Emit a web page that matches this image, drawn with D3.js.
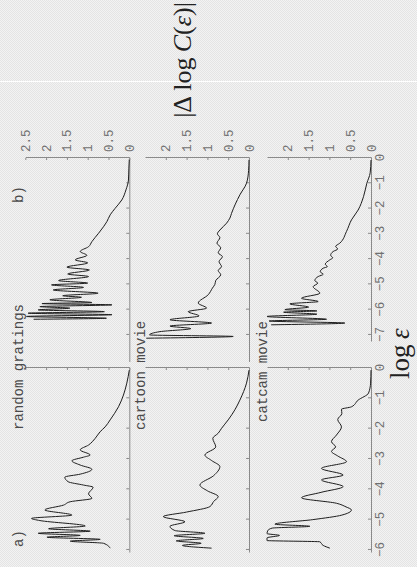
<!DOCTYPE html>
<html><head><meta charset="utf-8">
<script src="https://cdn.jsdelivr.net/npm/d3@7"></script>
<style>html,body{margin:0;padding:0;background:#ececec;} svg{display:block}</style>
</head><body>
<script>
// ---- data (log eps, |delta log C|) ----
const xTicksA = [-6,-5,-4,-3,-2,-1,0];
const xTicksB = [-7,-6,-5,-4,-3,-2,-1,0];
const yTicksTop = [0,0.5,1,1.5,2,2.5];
const yTicksLow = [0,0.5,1,1.5,2];
const rowTitles = ["random gratings","cartoon movie","catcam movie"];
const colLabels = ["a)","b)"];

const randomA = [[-5.94,0.46],[-5.78,0.62],[-5.71,1.42],[-5.65,0.70],[-5.58,1.98],[-5.52,1.18],[-5.45,2.19],[-5.38,0.94],[-5.30,1.94],[-5.21,1.06],[-5.03,2.15],[-4.96,2.35],[-4.85,1.38],[-4.68,2.03],[-4.52,1.58],[-4.41,1.42],[-4.30,0.90],[-4.15,0.98],[-3.93,0.87],[-3.86,1.10],[-3.75,1.47],[-3.60,1.55],[-3.50,1.18],[-3.34,0.90],[-3.20,1.18],[-3.06,1.38],[-2.94,1.10],[-2.87,0.94],[-2.70,1.18],[-2.54,0.98],[-2.32,0.82],[-2.10,0.70],[-1.94,0.58],[-1.71,0.46],[-1.28,0.26],[-0.89,0.14],[-0.50,0.06],[-0.07,0.0]];
const randomB = [[-6.38,2.30],[-6.34,0.55],[-6.27,2.47],[-6.20,0.42],[-6.14,2.43],[-6.08,0.60],[-6.01,2.19],[-5.94,1.43],[-5.88,2.15],[-5.81,0.42],[-5.76,2.10],[-5.72,0.90],[-5.61,1.91],[-5.51,1.15],[-5.45,1.60],[-5.35,0.75],[-5.22,1.83],[-5.12,1.10],[-5.02,1.87],[-4.95,1.00],[-4.85,1.70],[-4.69,0.98],[-4.59,1.48],[-4.43,0.96],[-4.32,1.50],[-4.15,1.00],[-4.03,1.30],[-3.85,1.02],[-3.70,1.18],[-3.51,0.98],[-3.31,0.90],[-2.98,0.74],[-2.72,0.62],[-2.52,0.54],[-2.25,0.46],[-1.99,0.34],[-1.66,0.18],[-1.26,0.08],[-0.87,0.02],[-0.40,0.01],[-0.05,0.0]];
const cartoonA = [[-5.94,0.90],[-5.85,1.60],[-5.78,1.15],[-5.70,1.75],[-5.62,1.10],[-5.53,1.80],[-5.45,1.06],[-5.36,1.78],[-5.22,1.90],[-5.07,1.54],[-4.90,2.06],[-4.75,1.50],[-4.57,0.94],[-4.40,0.85],[-4.24,0.74],[-4.05,1.00],[-3.86,1.18],[-3.55,0.85],[-3.25,0.70],[-3.05,0.90],[-2.87,1.06],[-2.60,0.80],[-2.32,0.87],[-2.15,0.74],[-1.99,0.66],[-1.71,0.50],[-1.38,0.34],[-1.06,0.22],[-0.50,0.06],[-0.07,0.0]];
const cartoonB = [[-7.13,2.47],[-7.06,0.38],[-7.00,2.39],[-6.87,2.14],[-6.75,1.40],[-6.65,1.90],[-6.53,0.90],[-6.40,1.90],[-6.25,1.20],[-6.08,1.46],[-5.94,1.02],[-5.74,1.22],[-5.41,0.98],[-5.15,0.88],[-5.00,0.82],[-4.85,0.80],[-4.62,0.68],[-4.45,0.74],[-4.30,0.66],[-4.10,0.72],[-3.90,0.64],[-3.75,0.74],[-3.55,0.68],[-3.37,0.77],[-3.15,0.70],[-3.00,0.76],[-2.85,0.70],[-2.58,0.54],[-2.38,0.46],[-2.19,0.42],[-1.46,0.22],[-1.00,0.06],[-0.50,0.01],[-0.07,0.0]];
const catcamA = [[-5.94,0.99],[-5.85,1.15],[-5.73,1.23],[-5.69,2.50],[-5.60,2.50],[-5.52,2.20],[-5.46,2.50],[-5.36,2.48],[-5.28,2.38],[-5.22,1.47],[-5.15,2.31],[-5.00,1.40],[-4.85,0.70],[-4.68,0.47],[-4.58,0.60],[-4.46,0.83],[-4.28,1.67],[-4.10,1.20],[-3.91,0.67],[-3.69,1.19],[-3.53,0.67],[-3.31,1.19],[-3.09,0.59],[-2.90,0.80],[-2.75,0.95],[-2.60,0.85],[-2.43,0.95],[-2.21,0.83],[-1.94,0.71],[-1.70,0.80],[-1.50,0.70],[-1.36,0.71],[-1.28,0.47],[-1.06,0.31],[-0.83,0.06],[-0.50,0.01],[-0.07,0.0]];
const catcamB = [[-6.60,2.40],[-6.53,0.63],[-6.45,2.45],[-6.38,1.07],[-6.27,2.51],[-6.18,1.30],[-6.10,2.10],[-6.05,1.30],[-6.00,2.07],[-5.90,1.50],[-5.77,1.95],[-5.68,1.27],[-5.55,1.67],[-5.35,1.23],[-5.09,1.39],[-4.95,1.28],[-4.85,1.35],[-4.69,1.27],[-4.60,1.15],[-4.50,1.22],[-4.36,1.15],[-4.30,1.05],[-4.20,1.10],[-4.03,0.99],[-3.95,0.92],[-3.85,0.97],[-3.70,0.91],[-3.60,0.80],[-3.50,0.85],[-3.37,0.75],[-2.91,0.59],[-2.45,0.47],[-2.06,0.31],[-1.53,0.18],[-1.00,0.10],[-0.59,0.02],[-0.08,0.0]];

const series = [[randomA, randomB],[cartoonA, cartoonB],[catcamA, catcamB]];

// ---- drawing ----
const W = 417, H = 567;
const svg = d3.select("body").append("svg").attr("width", W).attr("height", H);
const defs = svg.append("defs");
const pat = defs.append("pattern").attr("id","chk").attr("width",2).attr("height",2).attr("patternUnits","userSpaceOnUse");
pat.append("rect").attr("width",2).attr("height",2).attr("fill","#f3f3f3");
pat.append("rect").attr("width",1).attr("height",1).attr("fill","#e4e4e4");
pat.append("rect").attr("x",1).attr("y",1).attr("width",1).attr("height",1).attr("fill","#e4e4e4");
svg.append("rect").attr("width", W).attr("height", H).attr("fill","url(#chk)");
svg.append("line").attr("x1",0).attr("x2",W).attr("y1",81.5).attr("y2",81.5).attr("stroke","#fff").attr("stroke-width",1);

// chart is drawn in its own (landscape) frame and turned a quarter turn
const g = svg.append("g").attr("transform", `translate(0,${H}) rotate(-90)`);

const mono = "'Courier New','Liberation Mono',monospace";
const xA = d3.scaleLinear().domain([-6.1, 0]).range([14, 199]);
const xB = d3.scaleLinear().domain([-7.28, 0]).range([225, 409]);
const xBwide = d3.scaleLinear().domain([-8.08, 0]).range([204.5, 409]);
const xs = [xA, xB];
const xTicks = [xTicksA, xTicksB];
const bottoms = [129.3, 249, 371];
const titleX = [137, 137, 145];
const fmtX = d => d < 0 ? "\u2212" + Math.abs(d) : String(d);
const fmtY = d => String(d);

function styleAxis(sel){
  sel.selectAll("path,line").attr("stroke","#8a8a8a").attr("stroke-width",1);
  sel.selectAll("text").attr("fill","#707070").attr("font-family",mono).attr("font-size","12.5px");
  sel.attr("font-family", mono);
}

bottoms.forEach((b, r) => {
  const y = d3.scaleLinear().domain([0, 2.5]).range([b, b - 104]);
  [0,1].forEach(c => {
    const x = xs[c];
    const axScale = (c === 1 && r < 2) ? xBwide : x;
    const ax = d3.axisBottom(axScale).tickValues(xTicks[c]).tickSizeInner(-3).tickSizeOuter(0).tickPadding(4)
      .tickFormat(r < 2 ? "" : fmtX);
    const ga = g.append("g").attr("transform", `translate(0,${b})`).call(ax);
    if (c === 1 && r < 2) ga.selectAll(".tick").remove();
    if (c === 1 && r < 2) {
      const ax2 = d3.axisBottom(x).tickValues(xTicks[c]).tickSizeInner(-3).tickSizeOuter(0).tickFormat("");
      const gb = g.append("g").attr("transform", `translate(0,${b})`).call(ax2);
      gb.select(".domain").remove();
      styleAxis(gb);
    }
    styleAxis(ga);
    const line = d3.line().x(d => x(d[0])).y(d => y(Math.min(d[1], 2.5))).curve(d3.curveMonotoneX);
    g.append("path").datum(series[r][c]).attr("d", line)
      .attr("fill","none").attr("stroke","#1e1e1e").attr("stroke-width",1);
  });
  // right value axes
  const ay = d3.axisRight(y).tickValues(r === 0 ? yTicksTop : yTicksLow).tickSizeInner(-2).tickSizeOuter(0).tickPadding(6).tickFormat(fmtY);
  const gy = g.append("g").attr("transform", `translate(${xB.range()[1]},0)`).call(ay);
  styleAxis(gy);
  const ay2 = d3.axisRight(y).tickValues(r === 0 ? yTicksTop : yTicksLow).tickSizeInner(-2).tickSizeOuter(0).tickFormat("");
  const gy2 = g.append("g").attr("transform", `translate(${xA.range()[1]},0)`).call(ay2);
  styleAxis(gy2);
  // title
  g.append("text").attr("x", titleX[r]).attr("y", r === 0 ? 23 : b - 104)
    .attr("font-family", mono).attr("font-size","14px").attr("fill","#4a4a4a").text(rowTitles[r]);
});

g.append("text").attr("x", 20).attr("y", 23).attr("font-family", mono).attr("font-size","14px").attr("fill","#4a4a4a").text(colLabels[0]);
g.append("text").attr("x", 364).attr("y", 23).attr("font-family", mono).attr("font-size","14px").attr("fill","#4a4a4a").text(colLabels[1]);

const serif = "'Liberation Serif','DejaVu Serif',serif";
const yl = g.append("text").attr("x", 507).attr("y", 191).attr("text-anchor","middle")
  .attr("font-family", serif).attr("font-size","26px").attr("fill","#222");
yl.append("tspan").text("|\u0394\u2009log\u2009");
yl.append("tspan").attr("font-style","italic").text("C");
yl.append("tspan").text("(");
yl.append("tspan").attr("font-style","italic").text("\u03b5");
yl.append("tspan").text(")|");

const xl = g.append("text").attr("x", 188).attr("y", 409)
  .attr("font-family", serif).attr("font-size","27px").attr("fill","#222");
xl.append("tspan").text("log\u2009");
xl.append("tspan").attr("font-style","italic").text("\u03b5");
</script>
</body></html>
